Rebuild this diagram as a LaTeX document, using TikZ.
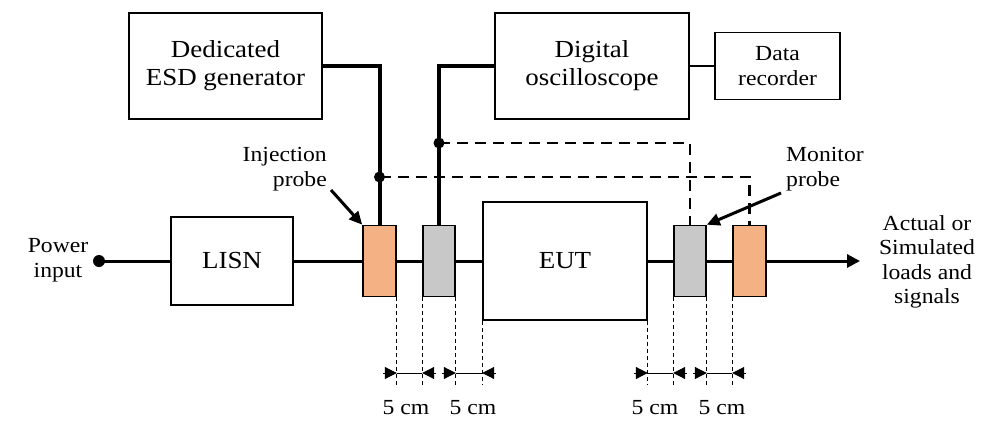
\documentclass[tikz,border=0pt]{standalone}
\usepackage{fontspec}
\setmainfont[FakeStretch=1.1]{Liberation Serif}
\usetikzlibrary{arrows.meta}
\definecolor{probeorange}{RGB}{244,177,131}
\definecolor{probegray}{RGB}{200,200,200}
\begin{document}
\begin{tikzpicture}[x=1pt,y=-1pt,
  box/.style={draw, line width=1.6pt, inner sep=0pt, align=center},
  big/.style={font=\fontsize{24.5}{28}\selectfont},
  small/.style={font=\fontsize{21.5}{25}\selectfont, inner sep=0pt},
  probeor/.style={draw, line width=1.6pt, fill=probeorange, minimum width=33pt, minimum height=71pt, inner sep=0pt},
  probegr/.style={draw, line width=1.6pt, fill=probegray, minimum width=32pt, minimum height=71pt, inner sep=0pt},
  wire/.style={line width=3pt},
  thickwire/.style={line width=4pt},
  dashwire/.style={line width=2.8pt, dash pattern=on 11pt off 7pt},
  tick/.style={line width=0.9pt, dash pattern=on 4pt off 3pt},
  dim/.style={line width=1pt},
  dimtip/.style={-{Triangle[length=12pt,width=12pt]}},
  labarrow/.style={line width=3pt, -{Triangle[length=13pt,width=12pt]}}
]
\useasboundingbox (0,0) rectangle (982,428);

% boxes
\node[box, big, minimum width=193pt, minimum height=106pt] (esd) at (225.5,66) {Dedicated\\ESD generator};
\node[box, big, minimum width=194pt, minimum height=106pt] (osc) at (592,66) {Digital\\oscilloscope};
\node[box, small, minimum width=125pt, minimum height=67pt] (rec) at (777.5,66) {Data\\recorder};
\node[box, big, minimum width=122pt, minimum height=88pt] (lisn) at (232,261) {LISN};
\node[box, big, minimum width=164pt, minimum height=118pt] (eut) at (565,261) {EUT};

% probes
\node[probeor] (p1) at (379.5,261) {};
\node[probegr] (p2) at (439,261) {};
\node[probegr] (p3) at (690,261) {};
\node[probeor] (p4) at (749.5,261) {};

% coordinates
\coordinate (pin) at (99,261);
\coordinate (out) at (860,261);
\coordinate (j1) at (379.5,177);
\coordinate (j2) at (439,143);
\coordinate (dimy) at (0,373);
\coordinate (tiky) at (0,385);
\coordinate (ia) at (331,190);
\coordinate (ma) at (781,193);

% dashed monitor lines
\draw[dashwire] (j1) -| (p4.north);
\draw[dashwire] (j2) -| (p3.north);

% main line
\draw[wire] (pin) -- (lisn.west);
\draw[wire] (lisn.east) -- (p1.west);
\draw[wire] (p1.east) -- (p2.west);
\draw[wire] (p2.east) -- (eut.west);
\draw[wire] (eut.east) -- (p3.west);
\draw[wire] (p3.east) -- (p4.west);
\draw[wire, -{Triangle[length=13pt,width=13pt]}] (p4.east) -- (out);
\fill (pin) circle (6pt);

% thick cables
\draw[thickwire] (esd.east) -| (p1.north);
\draw[thickwire] (osc.west) -| (p2.north);
\draw[line width=2.2pt] (osc.east) -- (rec.west);
\fill (j1) circle (5.5pt);
\fill (j2) circle (5.5pt);

% labels
\node[small, align=center] (pwr) at (58,260) {Power\\input};
\node[small, align=right, anchor=east] (inj) at (327,169) {Injection\\probe};
\node[small, align=left, anchor=west] (mon) at (786,169) {Monitor\\probe};
\node[small, align=center, font=\fontsize{21.5}{24.5}\selectfont] (act) at (927,262) {Actual or\\Simulated\\loads and\\signals};
\draw[labarrow] (ia) -- (p1.north west);
\draw[labarrow] (ma) -- (p3.north east);

% dimensions
\foreach \a/\b [count=\i] in {p1.south east/p2.south west, p2.south east/eut.south west, eut.south east/p3.south west, p3.south east/p4.south west} {
  \coordinate (da\i) at (\a |- dimy);
  \coordinate (db\i) at (\b |- dimy);
  \draw[tick] (\a) -- (\a |- tiky);
  \draw[tick] (\b) -- (\b |- tiky);
  \draw[dim] (da\i) -- (db\i);
  \draw[dim, dimtip] ([xshift=-14pt]da\i) -- (da\i);
  \draw[dim, dimtip] ([xshift=14pt]db\i) -- (db\i);
}
\node[small] (c1) at (406,408) {5 cm};
\node[small] (c2) at (473,408) {5 cm};
\node[small] (c3) at (655,408) {5 cm};
\node[small] (c4) at (722,408) {5 cm};
\end{tikzpicture}
\end{document}
